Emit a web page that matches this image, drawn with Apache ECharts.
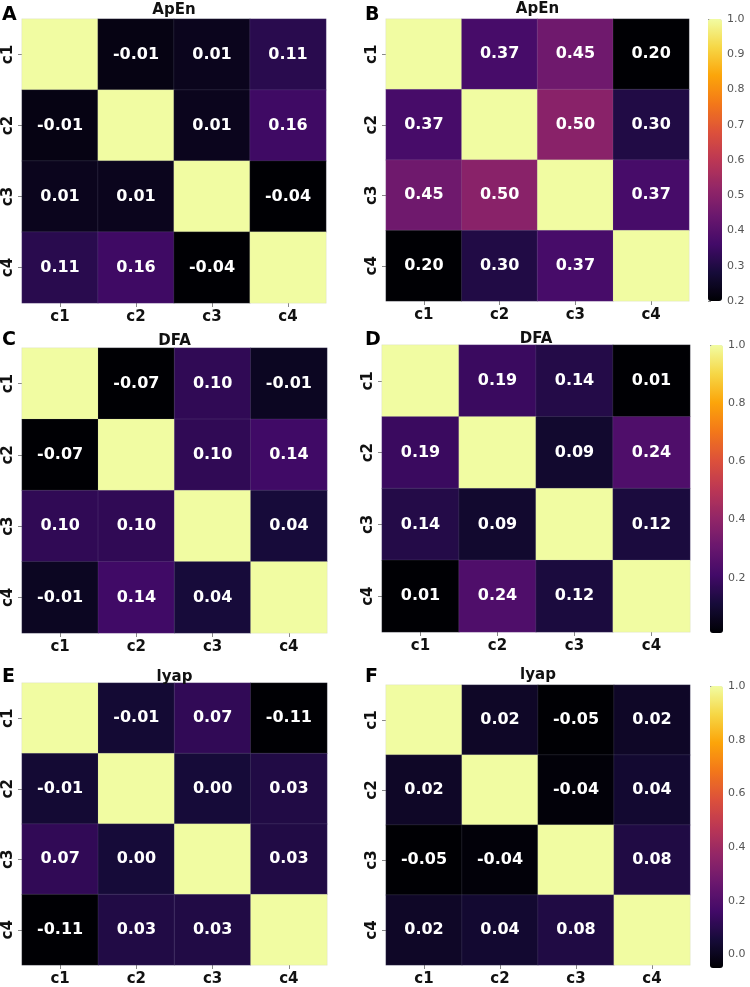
<!DOCTYPE html>
<html>
<head>
<meta charset="utf-8">
<script src="https://cdn.jsdelivr.net/npm/echarts@6/dist/echarts.min.js"></script>
<style>
  html, body { margin: 0; padding: 0; background: #fff; }
  #chart { width: 750px; height: 987px; }
</style>
</head>
<body>
<div id="chart"></div>
<script>
// channel names, same on both axes
const categories = ['c1', 'c2', 'c3', 'c4'];

// correlation matrices, row = y category, col = x category
const apenLeft = [
  [1, -0.01, 0.01, 0.11],
  [-0.01, 1, 0.01, 0.16],
  [0.01, 0.01, 1, -0.04],
  [0.11, 0.16, -0.04, 1]
];
const apenRight = [
  [1, 0.37, 0.45, 0.20],
  [0.37, 1, 0.50, 0.30],
  [0.45, 0.50, 1, 0.37],
  [0.20, 0.30, 0.37, 1]
];
const dfaLeft = [
  [1, -0.07, 0.10, -0.01],
  [-0.07, 1, 0.10, 0.14],
  [0.10, 0.10, 1, 0.04],
  [-0.01, 0.14, 0.04, 1]
];
const dfaRight = [
  [1, 0.19, 0.14, 0.01],
  [0.19, 1, 0.09, 0.24],
  [0.14, 0.09, 1, 0.12],
  [0.01, 0.24, 0.12, 1]
];
const lyapLeft = [
  [1, -0.01, 0.07, -0.11],
  [-0.01, 1, 0.00, 0.03],
  [0.07, 0.00, 1, 0.03],
  [-0.11, 0.03, 0.03, 1]
];
const lyapRight = [
  [1, 0.02, -0.05, 0.02],
  [0.02, 1, -0.04, 0.04],
  [-0.05, -0.04, 1, 0.08],
  [0.02, 0.04, 0.08, 1]
];

// colorbar tick labels
const ticksApEn = [0.2, 0.3, 0.4, 0.5, 0.6, 0.7, 0.8, 0.9, 1.0];
const ticksDFA = [0.2, 0.4, 0.6, 0.8, 1.0];
const ticksLyap = [0.0, 0.2, 0.4, 0.6, 0.8, 1.0];

// inferno
const inferno = ['#000004', '#160b39', '#420a68', '#6a176e', '#932667', '#bc3754',
  '#dd513a', '#f37819', '#fca50a', '#f6d746', '#f1fca2'];

const FONT = 'DejaVu Sans';

const panels = [
  { letter: 'A', title: 'ApEn', m: apenLeft, grid: { left: 22, top: 19, width: 304, height: 284 }, lt: 6, tt: 3 },
  { letter: 'B', title: 'ApEn', m: apenRight, grid: { left: 386, top: 19, width: 303, height: 282 }, lt: 6, tt: 2,
    bar: { left: 708, top: 19, width: 14, height: 282 }, ticks: ticksApEn },
  { letter: 'C', title: 'DFA', m: dfaLeft, grid: { left: 22, top: 348, width: 305, height: 285 }, lt: 331, tt: 334 },
  { letter: 'D', title: 'DFA', m: dfaRight, grid: { left: 382, top: 345, width: 308, height: 287 }, lt: 331, tt: 332,
    bar: { left: 710, top: 345, width: 13, height: 288 }, ticks: ticksDFA },
  { letter: 'E', title: 'lyap', m: lyapLeft, grid: { left: 22, top: 683, width: 305, height: 283 }, lt: 668, tt: 670 },
  { letter: 'F', title: 'lyap', m: lyapRight, grid: { left: 386, top: 685, width: 304, height: 283 }, lt: 668, tt: 668,
    bar: { left: 710, top: 686, width: 13, height: 282 }, ticks: ticksLyap }
];

const grids = [], xAxes = [], yAxes = [], series = [], visualMaps = [], titles = [];

panels.forEach((p, i) => {
  const data = [];
  p.m.forEach((row, r) => row.forEach((v, c) => data.push([c, r, v])));
  const vmin = Math.min(...p.m.flat());

  const gi = grids.length;
  grids.push(p.grid);
  const labelStyle = { fontFamily: FONT, fontWeight: 'bold', fontSize: 15, color: '#111' };
  xAxes.push({
    type: 'category', data: categories, gridIndex: gi,
    axisLine: { show: false },
    axisTick: { show: true, alignWithLabel: true, length: 4, lineStyle: { color: '#888' } },
    axisLabel: { ...labelStyle, margin: 7 }
  });
  yAxes.push({
    type: 'category', data: categories, gridIndex: gi, inverse: true,
    axisLine: { show: false },
    axisTick: { show: true, alignWithLabel: true, length: 4, lineStyle: { color: '#888' } },
    axisLabel: { ...labelStyle, rotate: 90, margin: 6 }
  });
  const si = series.length;
  series.push({
    type: 'heatmap', xAxisIndex: gi, yAxisIndex: gi, data: data,
    itemStyle: { borderColor: 'rgba(170,170,190,0.25)', borderWidth: 0.6 },
    label: {
      show: true, color: '#fff', fontFamily: FONT, fontWeight: 'bold', fontSize: 16,
      formatter: (q) => q.value[0] === q.value[1] ? '' : q.value[2].toFixed(2)
    },
    emphasis: { disabled: true }
  });

  const vm = {
    type: 'continuous', seriesIndex: si, min: vmin, max: 1,
    inRange: { color: inferno }, calculable: false, show: !!p.bar
  };
  if (p.bar) {
    Object.assign(vm, {
      orient: 'vertical', left: p.bar.left, top: p.bar.top, padding: 0,
      itemWidth: p.bar.width, itemHeight: p.bar.height, hoverLink: false
    });
    // axis drawn over the colorbar for its ticks
    const bi = grids.length;
    grids.push(p.bar);
    xAxes.push({ type: 'value', gridIndex: bi, show: false, min: 0, max: 1 });
    yAxes.push({
      type: 'value', gridIndex: bi, position: 'right', min: vmin, max: 1,
      axisLine: { show: false },
      splitLine: { show: false },
      axisTick: { show: true, length: 3, customValues: p.ticks, lineStyle: { color: '#888' } },
      axisLabel: {
        customValues: p.ticks, fontFamily: FONT, fontSize: 11, color: '#555', margin: 5,
        formatter: (v) => v.toFixed(1)
      }
    });
    series.push({ type: 'scatter', xAxisIndex: bi, yAxisIndex: bi, data: [], silent: true });
  }
  visualMaps.push(vm);

  const cx = p.grid.left + p.grid.width / 2;
  titles.push({
    text: p.title, left: cx, top: p.tt, textAlign: 'center', padding: 0,
    textStyle: { fontFamily: FONT, fontWeight: 'bold', fontSize: 15, color: '#111' }
  });
  titles.push({
    text: p.letter, left: i % 2 === 0 ? 2 : 365, top: p.lt, padding: 0,
    textStyle: { fontFamily: FONT, fontWeight: 'bold', fontSize: 19, color: '#000' }
  });
});

const chart = echarts.init(document.getElementById('chart'));
chart.setOption({
  animation: false,
  backgroundColor: '#fff',
  title: titles,
  grid: grids,
  xAxis: xAxes,
  yAxis: yAxes,
  visualMap: visualMaps,
  series: series
});
</script>
</body>
</html>
